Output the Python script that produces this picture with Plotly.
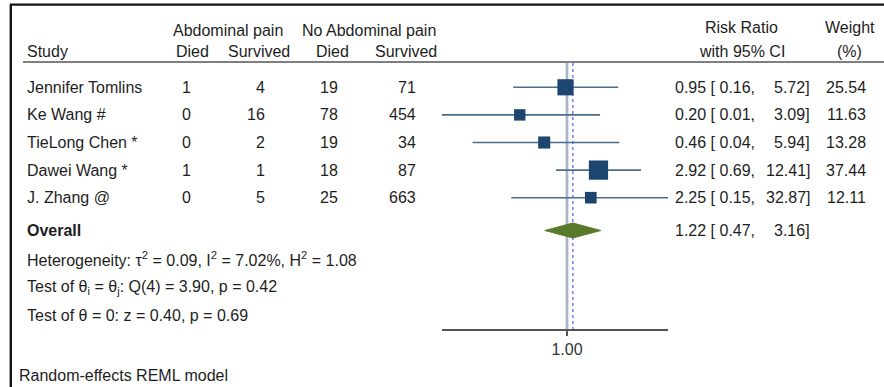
import plotly.graph_objects as go
import math

# ---------------- data ----------------
studies = ["Jennifer Tomlins", "Ke Wang #", "TieLong Chen *", "Dawei Wang *", "J. Zhang @"]
ab_died = [1, 0, 0, 1, 0]
ab_surv = [4, 16, 2, 1, 5]
noab_died = [19, 78, 19, 18, 25]
noab_surv = [71, 454, 34, 87, 663]
rr = [0.95, 0.20, 0.46, 2.92, 2.25]
rr_lo = [0.16, 0.01, 0.04, 0.69, 0.15]
rr_hi = [5.72, 3.09, 5.94, 12.41, 32.87]
weight = [25.54, 11.63, 13.28, 37.44, 12.11]
overall_rr, overall_lo, overall_hi = 1.22, 0.47, 3.16
stats_lines = [
    "Heterogeneity: τ<sup>2</sup> = 0.09, I<sup>2</sup> = 7.02%, H<sup>2</sup> = 1.08",
    "Test of θ<sub>i</sub> = θ<sub>j</sub>: Q(4) = 3.90, p = 0.42",
    "Test of θ = 0: z = 0.40, p = 0.69",
]
x_ticks = [1]
x_ticklabels = ["1.00"]

# ---------------- layout constants ----------------
W, H = 884, 387
FONT = "Liberation Sans, Arial, sans-serif"
FS = 16
TXT = "#1e1e1e"
AX_BOTTOM = 329          # pixel row of x-axis line
row_y = [87.3 + 27.6 * i for i in range(len(studies))]
overall_y = 230.5
stats_y = [259, 287.5, 315.5]

def px(x):
    return x / W

def py(y):
    return 1 - y / H

fig = go.Figure()

# CI lines
for i in range(len(studies)):
    fig.add_trace(go.Scatter(
        x=[rr_lo[i], rr_hi[i]], y=[row_y[i], row_y[i]],
        mode="lines", line=dict(color="#4d6d8c", width=1.6),
        hoverinfo="skip", showlegend=False))

# Overall diamond
fig.add_trace(go.Scatter(
    x=[overall_lo, overall_rr, overall_hi, overall_rr, overall_lo],
    y=[overall_y, overall_y - 7.5, overall_y, overall_y + 7.5, overall_y],
    mode="lines", fill="toself", fillcolor="#5a7a2b",
    line=dict(color="#5a7a2b", width=1), hoverinfo="skip", showlegend=False))

# Squares (area ~ weight)
fig.add_trace(go.Scatter(
    x=rr, y=row_y, mode="markers",
    marker=dict(symbol="square", color="#1c4670", opacity=1,
                size=[2.9 * math.sqrt(w) + 1.5 for w in weight],
                line=dict(width=0)),
    hoverinfo="skip", showlegend=False))

shapes = []
# null line and overall-estimate line
shapes.append(dict(type="line", xref="x", yref="y", x0=1, x1=1, y0=63, y1=AX_BOTTOM,
                   line=dict(color="#a9b6c5", width=2.7), layer="below"))
shapes.append(dict(type="line", xref="x", yref="y", x0=overall_rr, x1=overall_rr, y0=63, y1=AX_BOTTOM,
                   line=dict(color="#7070ff", width=1.4, dash="dot"), layer="below"))
# header rule
shapes.append(dict(type="line", xref="paper", yref="paper", x0=px(23), x1=1, y0=py(62), y1=py(62),
                   line=dict(color="#555555", width=1.6)))
# outer frame (top and left)
shapes.append(dict(type="line", xref="paper", yref="paper", x0=px(10), x1=1, y0=py(4.6), y1=py(4.6),
                   line=dict(color="#151515", width=2.4)))
shapes.append(dict(type="line", xref="paper", yref="paper", x0=px(10.8), x1=px(10.8), y0=py(4), y1=0,
                   line=dict(color="#151515", width=2.4)))

ann = []
def text(x, y, s, anchor="left", bold=False):
    ann.append(dict(x=px(x), y=py(y), xref="paper", yref="paper", text=("<b>%s</b>" % s) if bold else s,
                    showarrow=False, xanchor=anchor, yanchor="middle",
                    font=dict(family=FONT, size=FS, color=TXT), borderpad=0))

# headers
text(228, 30, "Abdominal pain", "center")
text(368.5, 30, "No Abdominal pain", "center")
text(26, 52, "Study")
text(192, 52, "Died", "center")
text(258.5, 52, "Survived", "center")
text(332, 52, "Died", "center")
text(405.5, 52, "Survived", "center")
text(741.5, 28, "Risk Ratio", "center")
text(742, 52, "with 95% CI", "center")
text(849.5, 28, "Weight", "center")
text(849, 52, "(%)", "center")

# rows
for i, s in enumerate(studies):
    y = row_y[i]
    text(26, y, s)
    text(192, y, str(ab_died[i]), "right")
    text(265.5, y, str(ab_surv[i]), "right")
    text(338.5, y, str(noab_died[i]), "right")
    text(417, y, str(noab_surv[i]), "right")
    text(673.5, y, "%.2f [ %.2f," % (rr[i], rr_lo[i]))
    text(810.5, y, "%.2f]" % rr_hi[i], "right")
    text(867, y, "%.2f" % weight[i], "right")

text(26, overall_y, "Overall", bold=True)
text(673.5, overall_y, "%.2f [ %.2f," % (overall_rr, overall_lo))
text(810.5, overall_y, "%.2f]" % overall_hi, "right")

for s, y in zip(stats_lines, stats_y):
    text(26, y, s)
text(17.5, 375.5, "Random-effects REML model")

fig.update_layout(
    width=W, height=H, autosize=False,
    margin=dict(l=0, r=0, t=0, b=0),
    paper_bgcolor="white", plot_bgcolor="rgba(0,0,0,0)",
    showlegend=False,
    shapes=shapes, annotations=ann,
    xaxis=dict(type="log", domain=[442 / W, 668 / W], range=[-1.849, 1.494],
               showgrid=False, zeroline=False, showline=True, linecolor="#555555", linewidth=1.6,
               tickvals=x_ticks, ticktext=x_ticklabels, ticks="outside", ticklen=5,
               tickcolor="#555555", tickwidth=1.6,
               tickfont=dict(family=FONT, size=FS, color="#333333"), fixedrange=True),
    yaxis=dict(domain=[(H - AX_BOTTOM) / H, 1], range=[AX_BOTTOM, 0], autorange=False,
               visible=False, fixedrange=True),
)

fig.write_html("out.html", post_script="document.body.style.margin='0';document.body.style.overflow='hidden';",
               config={"displayModeBar": False})
